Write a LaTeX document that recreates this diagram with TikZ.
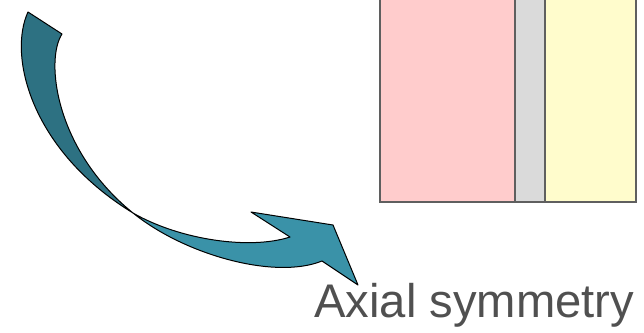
\documentclass[tikz,border=0pt]{standalone}
\usepackage{fontspec}
\setmainfont{Liberation Sans}
\definecolor{tealdark}{RGB}{45,113,130}
\definecolor{teallight}{RGB}{58,146,168}
\definecolor{pinkbox}{RGB}{255,204,204}
\definecolor{graybox}{RGB}{218,218,218}
\definecolor{yellowbox}{RGB}{255,252,204}
\definecolor{edgegray}{RGB}{95,95,95}
\definecolor{textgray}{RGB}{80,80,80}
\begin{document}
\begin{tikzpicture}[x=1pt,y=-1pt,
  band/.style={draw=edgegray,line width=2pt},
  arrowpart/.style={draw=black,line width=1pt,line join=round},
  label/.style={text=textgray,font=\fontsize{47.2}{47.2}\selectfont,inner sep=0pt,anchor=base west}]
\clip (0,0) rectangle (644,332);
\useasboundingbox (0,0) rectangle (644,332);
% bands
\path[band,fill=pinkbox] (379.5,-5) rectangle (515,202);
\path[band,fill=graybox] (515,-5) rectangle (545,202);
\path[band,fill=yellowbox] (545,-5) rectangle (636,202);
% curved arrow: upper (shadowed) part
\coordinate (cross) at (133,213);
\path[arrowpart,fill=tealdark] (28,12) .. controls (8,55) and (30,150) .. (cross)
  .. controls (55,150) and (45,60) .. (62,34) -- cycle;
% lower part with head
\path[arrowpart,fill=teallight] (cross) .. controls (185,255) and (275,280) .. (322,261)
  -- (358,285) -- (333,225) -- (251,212) -- (290,237)
  .. controls (250,250) and (180,240) .. (cross) -- cycle;
\node[label] (t) at (314,317) {Axial symmetry};
\end{tikzpicture}
\end{document}
